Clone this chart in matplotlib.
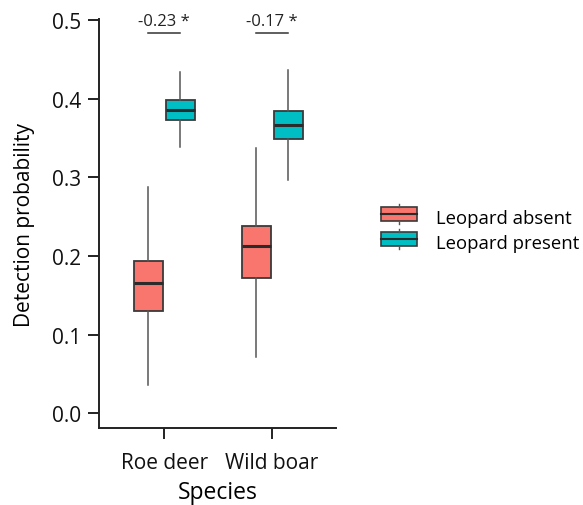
import numpy as np
import matplotlib
matplotlib.use("Agg")
import matplotlib.pyplot as plt
from matplotlib.legend_handler import HandlerBase
from matplotlib.patches import Rectangle
from matplotlib.lines import Line2D

plt.rcParams['font.family'] = ['Open Sans', 'DejaVu Sans']

species = ["Roe deer", "Wild boar"]
groups = ["Leopard absent", "Leopard present"]
colors = ["#F8766D", "#00BFC4"]
# whislo, q1, med, q3, whishi per species for each group
absent = [[0.036, 0.130, 0.166, 0.193, 0.287],
          [0.071, 0.172, 0.213, 0.238, 0.337]]
present = [[0.338, 0.373, 0.385, 0.398, 0.434],
           [0.297, 0.349, 0.366, 0.384, 0.437]]
diffs = ["-0.23 *", "-0.17 *"]

fig = plt.figure(figsize=(5.83, 5.06), dpi=100)
ax = fig.add_axes([0.170, 0.152, 0.406, 0.808])

x = np.arange(1, len(species) + 1)
off = 0.148
w = 0.27
edge = "#3a3a3a"

def stats(v):
    return dict(whislo=v[0], q1=v[1], med=v[2], q3=v[3], whishi=v[4], fliers=[])

for data, sgn, col in [(absent, -1, colors[0]), (present, 1, colors[1])]:
    bp = ax.bxp([stats(v) for v in data], positions=x + sgn * off, widths=w,
                patch_artist=True, showcaps=False, manage_ticks=False,
                boxprops=dict(facecolor=col, edgecolor=edge, linewidth=1.3),
                medianprops=dict(color="#2b2b2b", linewidth=2.2),
                whiskerprops=dict(color="#555555", linewidth=1.1))

for xi, txt in zip(x, diffs):
    ax.plot([xi - off, xi + off], [0.484, 0.484], color="#333333", lw=1.1, clip_on=False)
    ax.text(xi, 0.4985, txt, ha="center", va="center", fontsize=12, color="#222222")

ax.set_xlim(0.398, 2.59)
ax.set_ylim(-0.019, 0.501)
ax.set_yticks([0.0, 0.1, 0.2, 0.3, 0.4, 0.5])
ax.set_yticklabels(["0.0", "0.1", "0.2", "0.3", "0.4", "0.5"])
ax.set_xticks(x)
ax.set_xticklabels(species)
ax.spines[["top", "right"]].set_visible(False)
for s in ["left", "bottom"]:
    ax.spines[s].set_linewidth(1.4)
    ax.spines[s].set_color("#222222")
ax.tick_params(axis="both", direction="out", length=8, width=1.4, color="#222222",
               labelsize=15, labelcolor="#111111")
ax.tick_params(axis="y", pad=5)
ax.tick_params(axis="x", pad=9)
ax.set_xlabel("Species", fontsize=16.5, labelpad=5)
ax.set_ylabel("Detection probability", fontsize=15, labelpad=12)


class BoxHandler(HandlerBase):
    def __init__(self, color):
        super().__init__()
        self.color = color

    def create_artists(self, legend, orig, xd, yd, width, height, fontsize, trans):
        r = Rectangle((xd, yd + height * 0.05), width, height * 0.9,
                      facecolor=self.color, edgecolor=edge, lw=1.2, transform=trans)
        m = Line2D([xd, xd + width], [yd + height * 0.5] * 2, color="#2b2b2b", lw=1.5, transform=trans)
        t = Line2D([xd + width / 2] * 2, [yd + height * 0.95, yd + height * 1.15], color="#555555", lw=1, transform=trans)
        b = Line2D([xd + width / 2] * 2, [yd - height * 0.15, yd + height * 0.05], color="#555555", lw=1, transform=trans)
        return [r, m, t, b]

h1 = Rectangle((0, 0), 1, 1)
h2 = Rectangle((0, 0), 1, 1)
fig.legend([h1, h2], groups, handler_map={h1: BoxHandler(colors[0]), h2: BoxHandler(colors[1])},
           loc="center left", bbox_to_anchor=(0.6535, 0.5425), frameon=False, fontsize=13.3,
           borderpad=0, borderaxespad=0,
           handlelength=1.95, handleheight=0.9, handletextpad=1.05, labelspacing=0.35)

fig.savefig("out.png", dpi=100)
